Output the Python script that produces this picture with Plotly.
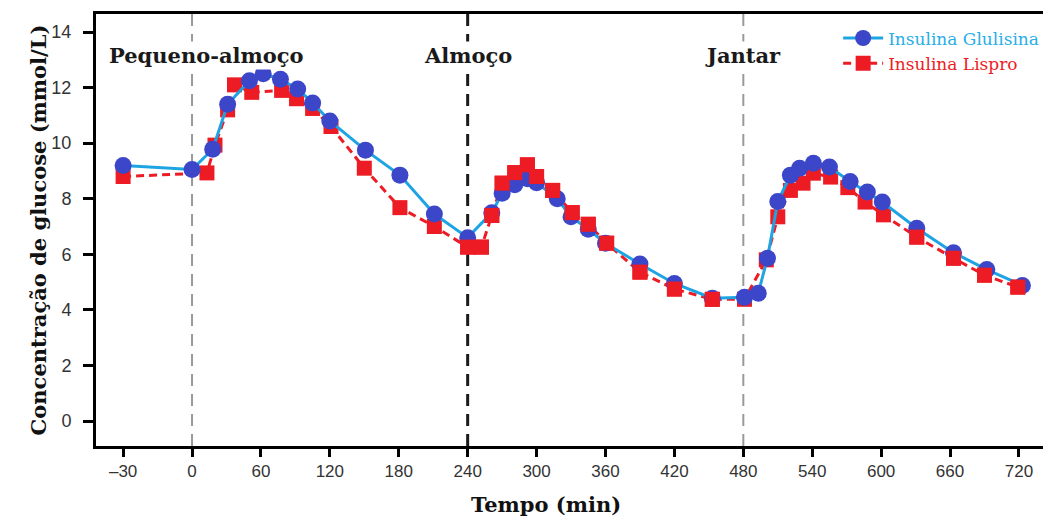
import plotly.graph_objects as go

# ---- data (time in minutes, glucose in mmol/L) ----
glulisina_t = [-30, 0, 18, 31, 50, 62, 77, 92, 105, 120, 151, 181, 211, 240,
               261, 270, 281, 292, 300, 318, 330, 345, 360, 390, 420, 453,
               481, 493, 501, 510, 521, 529, 541, 555, 573, 588, 601, 631,
               663, 692, 723]
glulisina_y = [9.2, 9.05, 9.78, 11.4, 12.25, 12.5, 12.3, 11.95, 11.45, 10.8,
               9.75, 8.85, 7.45, 6.6, 7.5, 8.2, 8.5, 8.72, 8.58, 8.0, 7.35,
               6.9, 6.4, 5.65, 4.95, 4.42, 4.45, 4.6, 5.86, 7.9, 8.85, 9.1,
               9.28, 9.14, 8.62, 8.24, 7.88, 6.94, 6.06, 5.45, 4.88]

lispro_t = [-30, 13, 20, 31, 37, 52, 78, 91, 105, 121, 150, 181, 211, 240,
            252, 261, 270, 281, 292, 300, 314, 331, 345, 361, 390, 420, 453,
            481, 500, 510, 521, 532, 541, 556, 571, 586, 602, 631, 663, 690,
            719]
lispro_y = [8.8, 8.93, 9.93, 11.2, 12.1, 11.83, 11.9, 11.6, 11.25, 10.6, 9.1,
            7.68, 7.0, 6.26, 6.26, 7.4, 8.56, 8.94, 9.22, 8.8, 8.3, 7.5, 7.08,
            6.4, 5.36, 4.75, 4.38, 4.38, 5.8, 7.35, 8.3, 8.56, 8.92, 8.78, 8.4,
            7.88, 7.42, 6.62, 5.86, 5.25, 4.82]

tick_labels = ["\u201330", "0", "60", "120", "180", "240", "300", "360",
               "420", "480", "540", "600", "660", "720"]
tick_minutes = [-30, 0, 60, 120, 180, 240, 300, 360, 420, 480, 540, 600, 660, 720]

meal_times = [0, 240, 480]
meal_labels = ["Pequeno-almoço", "Almoço", "Jantar"]
meal_label_x = [13, 240, 480]


# the axis is broken before 0: -30 min sits one full 60-min step left of 0
def pos(t):
    return -60 if t == -30 else t


def mapped(ts):
    return [pos(t) for t in ts]


BLUE_LINE = "#1ea4e2"
BLUE_MARK = "#3c46c9"
RED = "#ed1c24"
SERIF = "DejaVu Serif, Liberation Serif, serif"

fig = go.Figure()

fig.add_trace(go.Scatter(
    x=mapped(lispro_t), y=lispro_y, mode="lines+markers",
    name="<span style='color:#ed1c24'>Insulina Lispro</span>",
    line=dict(color=RED, width=3, dash="8px,5px"),
    marker=dict(symbol="square", size=15, color=RED),
    legendrank=2,
))
fig.add_trace(go.Scatter(
    x=mapped(glulisina_t), y=glulisina_y, mode="lines+markers",
    name="<span style='color:#29aee6'>Insulina Glulisina</span>",
    line=dict(color=BLUE_LINE, width=3),
    marker=dict(symbol="circle", size=17, color=BLUE_MARK),
    legendrank=1,
))
# red squares lying on top of the blue ones in the lunch and late-evening parts
over_t = [t for t in lispro_t if (240 <= t < 480) or t >= 620]
over_y = [y for t, y in zip(lispro_t, lispro_y) if (240 <= t < 480) or t >= 620]
fig.add_trace(go.Scatter(
    x=mapped(over_t), y=over_y, mode="markers", showlegend=False,
    marker=dict(symbol="square", size=15, color=RED), hoverinfo="skip",
))

line_styles = [("#9a9a9a", 2), ("#1a1a1a", 3), ("#9a9a9a", 2)]
for mt, (col, w) in zip(meal_times, line_styles):
    fig.add_shape(type="line", xref="x", yref="paper", x0=mt, x1=mt, y0=0, y1=1,
                  line=dict(color=col, width=w, dash="12px,8px"), layer="below")

for lab, lx in zip(meal_labels, meal_label_x):
    fig.add_annotation(x=lx, y=13.15, xref="x", yref="y", text=lab, showarrow=False,
                       font=dict(family=SERIF, size=21, color="#1a1a1a", weight="bold"),
                       bgcolor="white")

# x-axis title (sits a little left of the plot centre in the original)
fig.add_annotation(x=308, y=-0.135, xref="x", yref="paper", yanchor="middle",
                   text="Tempo (min)", showarrow=False,
                   font=dict(family=SERIF, size=21, color="#111111", weight="bold"))

# the page body adds an 8 px offset, so the figure is 8 px smaller than the window
fig.update_layout(
    width=1043, height=516,
    margin=dict(l=88, r=4, t=6, b=78),
    paper_bgcolor="white", plot_bgcolor="white",
    showlegend=True,
    legend=dict(x=0.997, xanchor="right", y=0.985, yanchor="top",
                font=dict(family=SERIF, size=17),
                bgcolor="rgba(0,0,0,0)", tracegroupgap=4, itemwidth=40),
)

fig.update_xaxes(
    range=[-83.6, 744.4], automargin=False,
    tickmode="array", tickvals=mapped(tick_minutes), ticktext=tick_labels,
    ticks="outside", ticklen=8, tickwidth=3, tickcolor="black",
    showline=True, linecolor="black", linewidth=3, mirror=True,
    showgrid=False, zeroline=False,
    tickfont=dict(family="Liberation Sans Narrow, Arial Narrow, Liberation Sans, Arial",
                  size=17, color="#333333"),
)
fig.update_yaxes(
    range=[-0.9, 14.65], automargin=False,
    tickmode="array", tickvals=[0, 2, 4, 6, 8, 10, 12, 14],
    ticks="outside", ticklen=10, tickwidth=3, tickcolor="black",
    showline=True, linecolor="black", linewidth=3, mirror=True,
    showgrid=False, zeroline=False,
    tickfont=dict(family="Liberation Sans, Arial", size=18, color="#333333"),
    ticklabelstandoff=8,
    title=dict(text="Concentração de glucose (mmol/L)", standoff=0,
               font=dict(family=SERIF, size=21, color="#111111", weight="bold")),
)

fig.write_html("out.html")
